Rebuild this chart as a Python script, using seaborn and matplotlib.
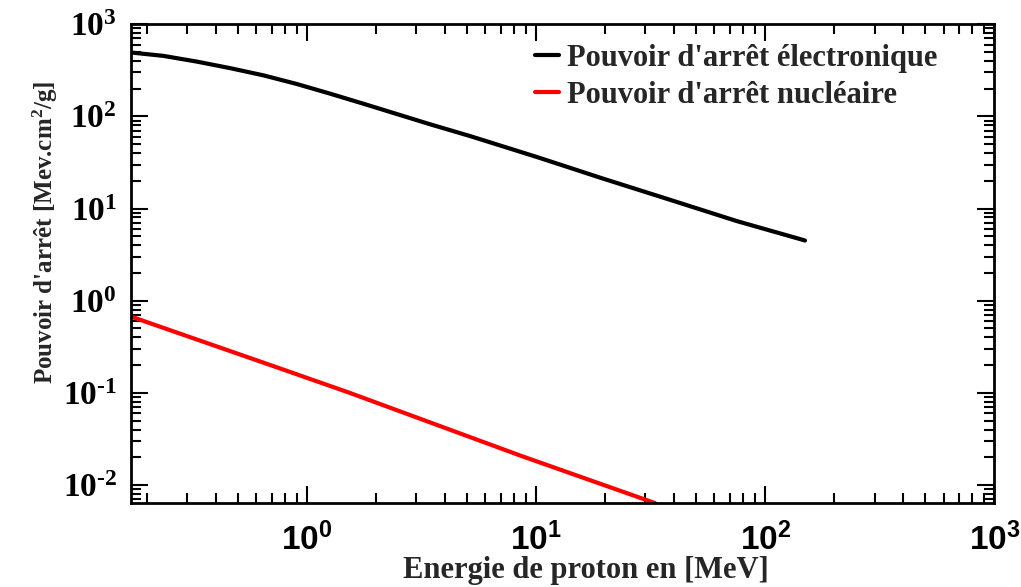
import numpy as np
import pandas as pd
import matplotlib
matplotlib.use("Agg")
import matplotlib.pyplot as plt
from matplotlib import rc
from matplotlib.ticker import FixedLocator, LogLocator, NullFormatter
import seaborn as sns

# proton energy (MeV) and stopping power (MeV.cm2/g)
energy_elec = [0.17, 0.236, 0.33, 0.461, 0.645, 0.902, 1.26, 1.76, 2.46,
               3.44, 5.15, 10.1, 19.7, 38.5, 75.2, 149]
stop_elec = [492, 452, 392, 333, 278, 224, 176, 137, 106,
             82, 61, 36.1, 21.0, 12.4, 7.3, 4.5]
energy_nucl = [0.17, 0.76, 1.54, 8.5, 33]
stop_nucl = [0.675, 0.185, 0.1, 0.021, 0.0064]

label_elec = "Pouvoir d'arrêt électronique"
label_nucl = "Pouvoir d'arrêt nucléaire"
xtick_vals = [1, 10, 100, 1000]
ytick_vals = [1e-2, 1e-1, 1, 10, 100, 1000]

df = pd.concat([
    pd.DataFrame({"E": energy_elec, "S": stop_elec, "kind": label_elec}),
    pd.DataFrame({"E": energy_nucl, "S": stop_nucl, "kind": label_nucl}),
])

sns.set_style("ticks")
rc("mathtext", fontset="custom")
rc("mathtext", default="regular")
rc("font", **{"family": "serif", "serif": ["Liberation Serif"], "weight": "bold"})
rc("axes", edgecolor="black")
rc("xtick", color="black")
rc("ytick", color="black")

fig = plt.figure(figsize=(10.21, 5.87), dpi=100)
ax = fig.add_axes([0.128, 0.143, 0.846, 0.816])

sns.lineplot(data=df, x="E", y="S", hue="kind", palette=["black", "red"],
             linewidth=3, ax=ax, sort=False)

ax.set_xscale("log")
ax.set_yscale("log")
ax.set_xlim(0.17, 1000)
ax.set_ylim(0.0064, 1000)

# ticks pointing inward on all four sides
ax.xaxis.set_major_locator(FixedLocator(xtick_vals))
ax.yaxis.set_major_locator(FixedLocator(ytick_vals))
ax.xaxis.set_minor_locator(LogLocator(base=10, subs=np.arange(2, 10), numticks=20))
ax.yaxis.set_minor_locator(LogLocator(base=10, subs=np.arange(2, 10), numticks=20))
ax.xaxis.set_minor_formatter(NullFormatter())
ax.yaxis.set_minor_formatter(NullFormatter())
ax.set_xticklabels(["10$^{%d}$" % int(np.log10(v)) for v in xtick_vals],
                   fontfamily="Liberation Sans", fontweight="bold", fontsize=24)
ax.set_yticklabels(["10$^{%s}$" % str(int(np.log10(v))).replace("-", "\u2010")
                    for v in ytick_vals],
                   fontfamily="Liberation Serif", fontweight="bold", fontsize=24)
ax.tick_params(which="both", direction="in", top=True, right=True, width=1.5)
ax.tick_params(axis="x", which="major", length=12, pad=14)
ax.tick_params(axis="y", which="major", length=12, pad=10)
ax.tick_params(which="minor", length=7)
for s in ax.spines.values():
    s.set_linewidth(2)

ax.set_xlabel("Energie de proton en [MeV]", fontsize=22, fontweight="bold")
ax.xaxis.set_label_coords(0.527, -0.11)
ax.set_ylabel("Pouvoir d'arrêt [Mev.cm$^{2}$/g]", fontsize=18,
              fontweight="bold")
ax.yaxis.set_label_coords(-0.082, 0.566)

leg = ax.legend(loc="upper left", bbox_to_anchor=(0.468, 0.958), frameon=False,
                fontsize=22, handlelength=0.8, handletextpad=0.25,
                borderaxespad=0, borderpad=0, labelspacing=0.25)
for t in leg.get_texts():
    t.set_fontweight("bold")

fig.savefig("out.png", dpi=100)
